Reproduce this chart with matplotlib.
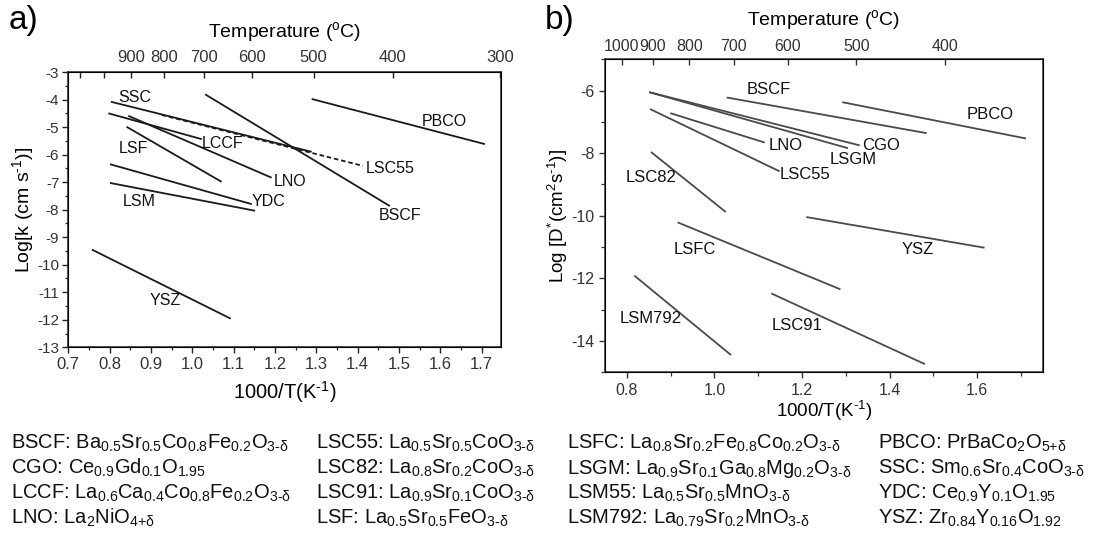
import matplotlib
matplotlib.use("Agg")
import matplotlib.pyplot as plt
from matplotlib.ticker import MultipleLocator, FixedLocator

plt.rcParams['font.family'] = ['Liberation Sans', 'DejaVu Sans']
plt.rcParams['mathtext.fontset'] = 'custom'
plt.rcParams['mathtext.rm'] = 'Liberation Sans'
plt.rcParams['mathtext.it'] = 'Liberation Sans:italic'
plt.rcParams['mathtext.bf'] = 'Liberation Sans:bold'
plt.rcParams['axes.unicode_minus'] = False

# ---------------- Panel a: surface exchange coefficient k ----------------
names_a = ['SSC', 'LSC55', 'BSCF', 'PBCO', 'LCCF', 'LNO', 'LSF', 'YDC', 'LSM', 'YSZ']
x1_a = [0.803, 0.926, 1.031, 1.289, 0.797, 0.845, 0.841, 0.801, 0.801, 0.757]
x2_a = [1.289, 1.413, 1.478, 1.708, 1.023, 1.192, 1.071, 1.144, 1.152, 1.093]
y1_a = [-4.08, -4.56, -3.81, -3.98, -4.50, -4.59, -4.99, -6.35, -7.03, -9.45]
y2_a = [-5.90, -6.41, -7.87, -5.62, -5.44, -6.84, -6.99, -7.80, -8.04, -11.96]
labx_a = [0.861, 1.478, 1.502, 1.611, 1.073, 1.236, 0.857, 1.184, 0.872, 0.934]
laby_a = [-3.91, -6.49, -8.20, -4.81, -5.59, -6.99, -5.77, -7.69, -7.69, -11.29]
temps_a = [1100, 1000, 900, 800, 700, 600, 500, 400, 300]
temp_labels_a = ['', '', '900', '800', '700', '600', '500', '400', '300']

# ---------------- Panel b: tracer diffusion coefficient D* ----------------
names_b = ['BSCF', 'PBCO', 'CGO', 'LSGM', 'LNO', 'LSC55', 'LSC82', 'YSZ', 'LSFC', 'LSM792', 'LSC91']
x1_b = [1.028, 1.292, 0.851, 0.851, 0.899, 0.853, 0.855, 1.210, 0.916, 0.817, 1.130]
x2_b = [1.485, 1.712, 1.332, 1.305, 1.115, 1.149, 1.026, 1.617, 1.288, 1.038, 1.481]
y1_b = [-6.22, -6.37, -6.05, -6.05, -6.72, -6.59, -7.96, -10.04, -10.21, -11.91, -12.48]
y2_b = [-7.36, -7.53, -7.75, -7.84, -7.66, -8.58, -9.88, -11.02, -12.35, -14.45, -14.74]
labx_b = [1.123, 1.630, 1.381, 1.316, 1.163, 1.208, 0.855, 1.465, 0.956, 0.855, 1.189]
laby_b = [-5.96, -6.77, -7.75, -8.19, -7.75, -8.69, -8.77, -11.08, -11.08, -13.29, -13.52]
temps_b = [1000, 900, 800, 700, 600, 500, 400]

# ---------------- Composition legend ----------------
legend_cols = [
    ['BSCF: Ba$_{0.5}$Sr$_{0.5}$Co$_{0.8}$Fe$_{0.2}$O$_{\\text{3-δ}}$',
     'CGO: Ce$_{0.9}$Gd$_{0.1}$O$_{1.95}$',
     'LCCF: La$_{0.6}$Ca$_{0.4}$Co$_{0.8}$Fe$_{0.2}$O$_{\\text{3-δ}}$',
     'LNO: La$_{2}$NiO$_{\\text{4+δ}}$'],
    ['LSC55: La$_{0.5}$Sr$_{0.5}$CoO$_{\\text{3-δ}}$',
     'LSC82: La$_{0.8}$Sr$_{0.2}$CoO$_{\\text{3-δ}}$',
     'LSC91: La$_{0.9}$Sr$_{0.1}$CoO$_{\\text{3-δ}}$',
     'LSF: La$_{0.5}$Sr$_{0.5}$FeO$_{\\text{3-δ}}$'],
    ['LSFC: La$_{0.8}$Sr$_{0.2}$Fe$_{0.8}$Co$_{0.2}$O$_{\\text{3-δ}}$',
     'LSGM: La$_{0.9}$Sr$_{0.1}$Ga$_{0.8}$Mg$_{0.2}$O$_{\\text{3-δ}}$',
     'LSM55: La$_{0.5}$Sr$_{0.5}$MnO$_{\\text{3-δ}}$',
     'LSM792: La$_{0.79}$Sr$_{0.2}$MnO$_{\\text{3-δ}}$'],
    ['PBCO: PrBaCo$_{2}$O$_{\\text{5+δ}}$',
     'SSC: Sm$_{0.6}$Sr$_{0.4}$CoO$_{\\text{3-δ}}$',
     'YDC: Ce$_{0.9}$Y$_{0.1}$O$_{1.95}$',
     'YSZ: Zr$_{0.84}$Y$_{0.16}$O$_{1.92}$'],
]


def inv_t(temps):
    return [1000.0 / (t + 273.15) for t in temps]


W, H = 1094, 534
fig = plt.figure(figsize=(W / 100, H / 100), dpi=100)

# axes boxes (pixel geometry of the reference)
axa = fig.add_axes([68.3 / W, 1 - 347.3 / H, 432.7 / W, 275.3 / H])
axb = fig.add_axes([605 / W, 1 - 372.3 / H, 437.7 / W, 313 / H])

# ---- panel a ----
for n, xa, xb, ya, yb, lx, ly in zip(names_a, x1_a, x2_a, y1_a, y2_a, labx_a, laby_a):
    ls = (0, (2.5, 1.6)) if n == 'LSC55' else '-'
    axa.plot([xa, xb], [ya, yb], color='#1a1a1a', lw=1.3, ls=ls, solid_capstyle='butt')
    axa.text(lx, ly, n, ha='center', va='center', fontsize=11.5, color='#111111')

axa.set_xlim(0.7, 1.747)
axa.set_ylim(-13, -3)
axa.xaxis.set_major_locator(MultipleLocator(0.1))
axa.xaxis.set_minor_locator(MultipleLocator(0.05))
axa.yaxis.set_major_locator(MultipleLocator(1))
axa.yaxis.set_minor_locator(MultipleLocator(0.5))
axa.xaxis.set_major_formatter(plt.FuncFormatter(lambda v, p: f'{v:.1f}'))
axa.tick_params(axis='both', which='major', direction='out', length=4, width=1, labelsize=12, pad=3, colors='#222222')
axa.tick_params(axis='both', which='minor', direction='out', length=2.5, width=0.9, colors='#222222')
axa.tick_params(axis='x', labelcolor='#333333')
axa.tick_params(axis='y', labelcolor='#333333', labelsize=11, pad=2.5)
for s in axa.spines.values():
    s.set_color('#222222')
    s.set_linewidth(1.1)
axa.set_xlabel('1000/T(K$^{\\text{-1}}$)', fontsize=14.5)
axa.xaxis.set_label_coords(0.5, -0.162)
axa.xaxis.label.set_va('center')
axa.set_ylabel('Log[k (cm s$^{\\text{-1}}$)]', fontsize=14)
axa.yaxis.set_label_coords(-(68.3 - 23.5) / 432.7, 0.5)
axa.yaxis.label.set_va('center')

ta = axa.twiny()
ta.set_xlim(axa.get_xlim())
ta.xaxis.set_major_locator(FixedLocator(inv_t(temps_a)))
ta.set_xticklabels(temp_labels_a)
ta.xaxis.set_minor_locator(FixedLocator([]))
ta.tick_params(axis='x', which='major', direction='in', length=4.5, width=1, labelsize=12, pad=5, colors='#222222', labelcolor='#333333')
ta.set_xlabel('Temperature ($^{\\text{o}}$C)', fontsize=14)
ta.xaxis.set_label_coords(0.5, 1 + (72 - 32) / 275.3)
ta.xaxis.label.set_va('center')

# ---- panel b ----
for n, xa, xb, ya, yb, lx, ly in zip(names_b, x1_b, x2_b, y1_b, y2_b, labx_b, laby_b):
    axb.plot([xa, xb], [ya, yb], color='#4a4a4a', lw=1.3, solid_capstyle='butt')
    axb.text(lx, ly, n, ha='center', va='center', fontsize=12, color='#111111')

axb.set_xlim(0.75, 1.75)
axb.set_ylim(-15, -5)
axb.xaxis.set_major_locator(MultipleLocator(0.2))
axb.xaxis.set_minor_locator(MultipleLocator(0.1))
axb.yaxis.set_major_locator(MultipleLocator(2))
axb.yaxis.set_minor_locator(MultipleLocator(1))
axb.xaxis.set_major_formatter(plt.FuncFormatter(lambda v, p: f'{v:.1f}'))
axb.yaxis.set_major_formatter(plt.FuncFormatter(lambda v, p: f'{v:.0f}'))
axb.tick_params(axis='both', which='major', direction='out', length=4.5, width=1, labelsize=11.5, pad=3, colors='#333333', labelcolor='#333333')
axb.tick_params(axis='both', which='minor', direction='out', length=3, width=0.9, colors='#333333')
for s in axb.spines.values():
    s.set_color('#333333')
    s.set_linewidth(1.1)
axb.set_xlabel('1000/T(K$^{\\text{-1}}$)', fontsize=13.5)
axb.xaxis.set_label_coords(0.5, -(411 - 372.3) / 313)
axb.xaxis.label.set_va('center')
axb.set_ylabel('Log [D$^{*}$(cm$^{2}$s$^{\\text{-1}}$)]', fontsize=13.5)
axb.yaxis.set_label_coords(-(605 - 558) / 437.7, 0.5)
axb.yaxis.label.set_va('center')

tb = axb.twiny()
tb.set_xlim(0.749, 1.697)
tb.xaxis.set_major_locator(FixedLocator(inv_t(temps_b)))
tb.set_xticklabels([str(t) for t in temps_b])
tb.xaxis.set_minor_locator(FixedLocator([]))
tb.tick_params(axis='x', which='major', direction='in', length=4.5, width=1, labelsize=11.5, pad=4, colors='#333333', labelcolor='#333333')
tb.set_xlabel('Temperature ($^{\\text{o}}$C)', fontsize=14)
tb.xaxis.set_label_coords(0.5, 1 + (59.3 - 20) / 313)
tb.xaxis.label.set_va('center')

# panel letters
fig.text(23 / W, 1 - 20 / H, 'a)', fontsize=24, ha='center', va='center')
fig.text(560 / W, 1 - 20 / H, 'b)', fontsize=24, ha='center', va='center')

# composition legend
col_x = [11, 316.5, 567, 878]
row_base = [449, 474, 499, 524]
for cx, col in zip(col_x, legend_cols):
    for ry, txt in zip(row_base, col):
        fig.text(cx / W, 1 - ry / H, txt, fontsize=14.5, ha='left', va='baseline', color='#111111')

fig.savefig('out.png', dpi=100)
